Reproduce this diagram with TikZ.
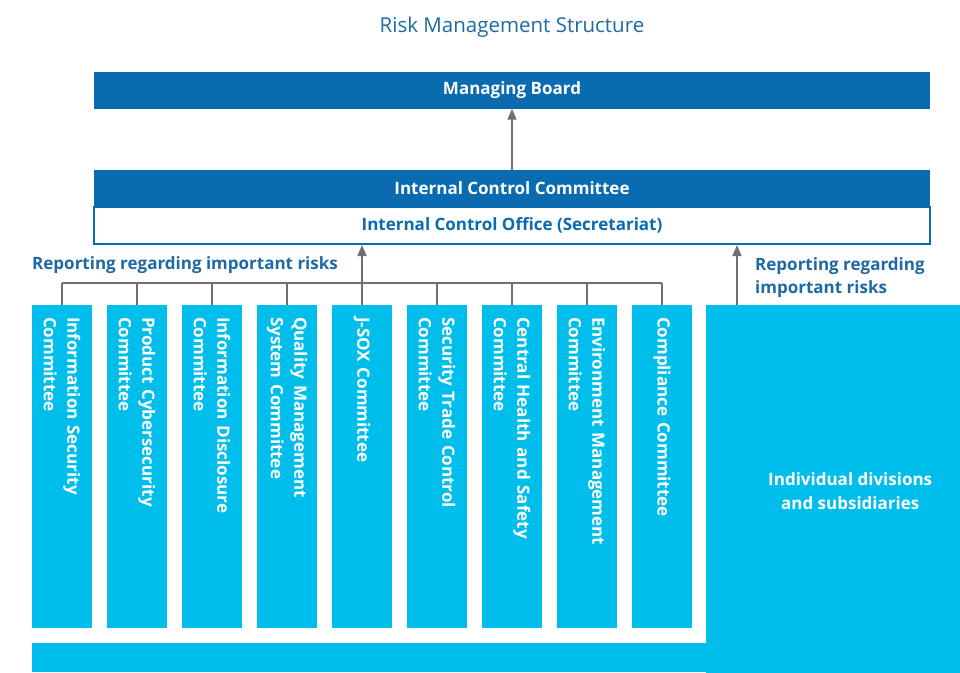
\documentclass[tikz,border=0pt]{standalone}
\usepackage{fontspec}
\setmainfont{Open Sans}
\usetikzlibrary{arrows.meta}
\definecolor{dblue}{HTML}{0A6BB1}
\definecolor{cyanb}{HTML}{00BEEC}
\definecolor{lblue}{HTML}{1D6AA5}
\definecolor{conncol}{HTML}{707070}
\begin{document}
\begin{tikzpicture}[x=1pt,y=-1pt,
  darkbox/.style={fill=dblue, text=white, font=\bfseries\fontsize{17}{18}\selectfont,
    minimum width=836pt, minimum height=37pt, inner sep=0pt},
  officebox/.style={fill=white, draw=dblue, line width=2pt, text=dblue,
    font=\bfseries\fontsize{17}{18}\selectfont,
    minimum width=836pt, minimum height=37pt, inner sep=0pt},
  commbox/.style={fill=cyanb, text=white, rotate=-90,
    font=\bfseries\fontsize{17}{23.5}\selectfont, text width=299pt,
    inner xsep=12pt, inner ysep=0pt, minimum height=60pt, align=left},
  cyanfill/.style={fill=cyanb, inner sep=0pt},
  lbl/.style={text=lblue, font=\bfseries\fontsize{17}{23}\selectfont, inner sep=0pt},
  conn/.style={draw=conncol, line width=1.6pt},
  arr/.style={conn, -{Triangle[width=9pt,length=11pt]}}]
\useasboundingbox[fill=white] (0,0) rectangle (960,672);

\node[text=lblue, font=\fontsize{20.5}{24}\selectfont] (title) at (512,27) {Risk Management Structure};

\node[darkbox] (board) at (512,90) {Managing Board};
\node[darkbox] (icc) at (512,188.5) {Internal Control Committee};
\node[officebox] (ico) at (512,225.5) {Internal Control Office (Secretariat)};

\draw[arr] (icc.north) -- (board.south);

\node[commbox] (c1) at (62,466.5) {Information Security\\Committee};
\node[commbox] (c2) at (137,466.5) {Product Cybersecurity\\Committee};
\node[commbox] (c3) at (212,466.5) {Information Disclosure\\Committee};
\node[commbox] (c4) at (287,466.5) {Quality Management\\System Committee};
\node[commbox] (c5) at (362,466.5) {J-SOX Committee};
\node[commbox] (c6) at (437,466.5) {Security Trade Control\\Committee};
\node[commbox] (c7) at (512,466.5) {Central Health and Safety\\Committee};
\node[commbox] (c8) at (587,466.5) {Environment Management\\Committee};
\node[commbox] (c9) at (662,466.5) {Compliance Committee};

\node[cyanfill, anchor=north west, minimum width=288pt, minimum height=372pt,
  text=white, font=\bfseries\fontsize{17}{24}\selectfont, align=center] (div) at (706,305)
  {Individual divisions\\and subsidiaries};
\node[cyanfill, anchor=north west, minimum width=928pt, minimum height=29pt] (band) at (32,643) {};

\coordinate (bus) at (0,283);
\draw[conn] (c1.west |- bus) -- (c9.west |- bus);
\foreach \i in {1,2,3,4,6,7,8,9} {\draw[conn] (c\i.west) -- (c\i.west |- bus);}
\draw[arr] (c5.west) -- (c5.west |- ico.south);

\coordinate (rfoot) at (737,305);
\draw[arr] (rfoot) -- (rfoot |- ico.south);

\node[lbl, anchor=west] (lblL) at (32,265) {Reporting regarding important risks};
\node[lbl, anchor=north west, align=left] (lblR) at (755,257) {Reporting regarding\\important risks};
\end{tikzpicture}
\end{document}
